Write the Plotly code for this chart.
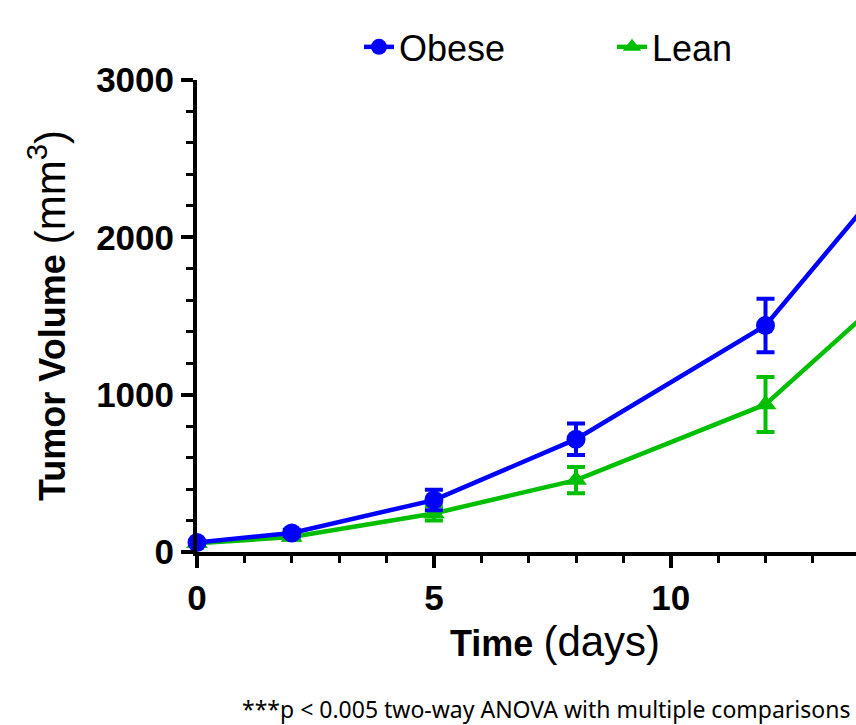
import plotly.graph_objects as go

days = [0, 2, 5, 8, 12, 15]
obese = [60, 121, 330, 717, 1440, 2520]
obese_sem = [10, 20, 65, 100, 170, 200]
lean = [55, 95, 245, 457, 938, 1750]
lean_sem = [8, 15, 45, 83, 175, 180]

BLUE = "#0000FF"
GREEN = "#00BF00"
FONT = "Liberation Sans"

fig = go.Figure()
fig.add_trace(go.Scatter(
    x=days, y=lean, name="Lean", mode="lines+markers",
    line=dict(color=GREEN, width=4.5),
    marker=dict(symbol="triangle-up", size=19, color=GREEN),
    error_y=dict(type="data", array=lean_sem, color=GREEN, thickness=4, width=9),
    legendrank=2, cliponaxis=False,
))
fig.add_trace(go.Scatter(
    x=days, y=obese, name="Obese", mode="lines+markers",
    line=dict(color=BLUE, width=4.5),
    marker=dict(symbol="circle", size=19, color=BLUE),
    error_y=dict(type="data", array=obese_sem, color=BLUE, thickness=4, width=9),
    legendrank=1, cliponaxis=False,
))

fig.update_layout(
    width=856, height=725,
    margin=dict(l=197, r=0, t=80, b=173, autoexpand=False),
    plot_bgcolor="white", paper_bgcolor="white",
    showlegend=True,
    legend=dict(
        orientation="h", x=0.2458, xanchor="left", y=1.07, yanchor="middle",
        font=dict(family=FONT, size=36, color="black"),
        entrywidth=208, entrywidthmode="pixels",
        bgcolor="rgba(0,0,0,0)",
    ),
    xaxis=dict(
        range=[0, 13.91], showgrid=False, zeroline=False,
        showline=True, linecolor="black", linewidth=4,
        ticks="outside", tickcolor="black", ticklen=12, tickwidth=4,
        tickmode="linear", tick0=0, dtick=5,
        minor=dict(ticks="outside", dtick=1, ticklen=7, tickwidth=3, tickcolor="black"),
        tickfont=dict(family=FONT, size=35, color="black", weight="bold"),
        ticklabelstandoff=0,
    ),
    yaxis=dict(
        range=[0, 3000], showgrid=False, zeroline=False,
        showline=True, linecolor="black", linewidth=4,
        ticks="outside", tickcolor="black", ticklen=12, tickwidth=4,
        tickmode="linear", tick0=0, dtick=1000,
        minor=dict(ticks="outside", dtick=200, ticklen=7, tickwidth=3, tickcolor="black"),
        tickfont=dict(family=FONT, size=35, color="black", weight="bold"),
        ticklabelstandoff=0,
    ),
    annotations=[
        dict(text="<b>Tumor Volume</b> <span style='font-size:42px'>(mm<sup>3</sup>)</span>",
             xref="paper", yref="paper", x=-0.2276, y=0.5,
             xanchor="center", yanchor="middle", textangle=-90, showarrow=False,
             font=dict(family=FONT, size=36, color="black")),
        dict(text="<b>Time</b> <span style='font-size:42px'>(days)</span>",
             xref="paper", yref="paper", x=0.544, y=-0.1886,
             xanchor="center", yanchor="middle", showarrow=False,
             font=dict(family=FONT, size=36, color="black")),
        dict(text="***p < 0.005 two-way ANOVA with multiple comparisons",
             xref="paper", yref="paper", x=(852 - 197) / 659, y=-0.3326,
             xanchor="right", yanchor="middle", showarrow=False,
             font=dict(family="Noto Sans", size=23, color="black")),
    ],
)

fig.write_html("out.html")
